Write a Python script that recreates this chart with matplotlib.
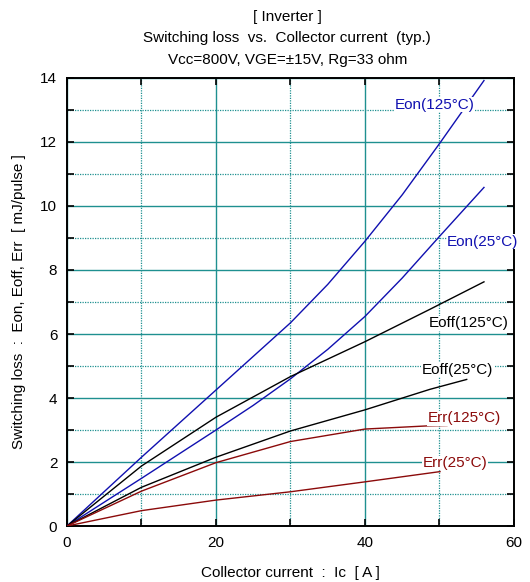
import matplotlib
matplotlib.use('Agg')
import matplotlib.pyplot as plt
from matplotlib.ticker import MultipleLocator

plt.rcParams['font.family'] = ['Liberation Sans', 'DejaVu Sans']

# values (Ic in A, loss in mJ/pulse)
eon125_x = [0, 10, 20, 30, 35, 40, 45, 50, 55.97]
eon125_y = [0, 2.15, 4.25, 6.35, 7.55, 8.9, 10.35, 11.95, 13.92]
eon25_x = [0, 10, 20, 25, 30, 35, 40, 45, 50, 55.97]
eon25_y = [0, 1.49, 3.0, 3.77, 4.6, 5.52, 6.55, 7.75, 9.05, 10.58]
eoff125_x = [0, 10, 20, 30, 40, 48.7, 55.97]
eoff125_y = [0, 1.875, 3.40, 4.67, 5.76, 6.77, 7.63]
eoff25_x = [0, 10, 20, 30, 40, 48.7, 53.65]
eoff25_y = [0, 1.21, 2.15, 2.97, 3.63, 4.27, 4.58]
err125_x = [0, 10, 20, 30, 40, 48.5, 51]
err125_y = [0, 1.09, 1.98, 2.64, 3.03, 3.13, 3.14]
err25_x = [0, 10, 20, 30, 40, 50.07]
err25_y = [0, 0.48, 0.81, 1.07, 1.38, 1.70]

blue = '#1010b0'
red = '#8b0a0a'
black = '#000000'
teal = '#1f9090'

fig = plt.figure(figsize=(5.3, 5.82), dpi=100)
ax = fig.add_axes([0.1264, 0.0962, 0.8434, 0.7698])

curves = [
    (eon125_x, eon125_y, blue, 'Eon(125°C)', 49.3, 13.16),
    (eon25_x, eon25_y, blue, 'Eon(25°C)', 55.8, 8.88),
    (eoff125_x, eoff125_y, black, 'Eoff(125°C)', 53.96, 6.34),
    (eoff25_x, eoff25_y, black, 'Eoff(25°C)', 52.4, 4.88),
    (err125_x, err125_y, red, 'Err(125°C)', 53.3, 3.37),
    (err25_x, err25_y, red, 'Err(25°C)', 52.1, 1.97),
]
for x, y, c, lab, lx, ly in curves:
    ax.plot(x, y, color=c, lw=1.0, zorder=3)
    ax.text(lx, ly, lab, color=c, fontsize=11, ha='center', va='center',
            zorder=4, clip_on=False,
            bbox=dict(facecolor='white', edgecolor='none', pad=0.3))

ax.set_xlim(0, 60)
ax.set_ylim(0, 14)
ax.xaxis.set_major_locator(MultipleLocator(20))
ax.xaxis.set_minor_locator(MultipleLocator(10))
ax.yaxis.set_major_locator(MultipleLocator(2))
ax.yaxis.set_minor_locator(MultipleLocator(1))

ax.grid(which='major', color=teal, lw=1.0, ls='-', zorder=1)
ax.grid(which='minor', color=teal, lw=0.9, ls=(0, (1, 1)), zorder=1)
ax.set_axisbelow(True)

ax.tick_params(which='both', direction='in', top=True, right=True,
               length=5, width=1.2, labelsize=11, pad=7)
for s in ax.spines.values():
    s.set_linewidth(1.4)

ax.set_xlabel('Collector current  :  Ic  [ A ]', fontsize=11, labelpad=12)
ax.set_ylabel('Switching loss  :  Eon, Eoff, Err  [ mJ/pulse ]', fontsize=11, labelpad=10)

cx = 0.542
fig.text(cx, 1 - 17 / 582, '[ Inverter ]', ha='center', va='center', fontsize=11)
fig.text(cx, 1 - 38 / 582, 'Switching loss  vs.  Collector current  (typ.)',
         ha='center', va='center', fontsize=11)
fig.text(cx, 1 - 60 / 582, 'Vcc=800V, VGE=±15V, Rg=33 ohm',
         ha='center', va='center', fontsize=11)

fig.savefig('out.png', dpi=100)
